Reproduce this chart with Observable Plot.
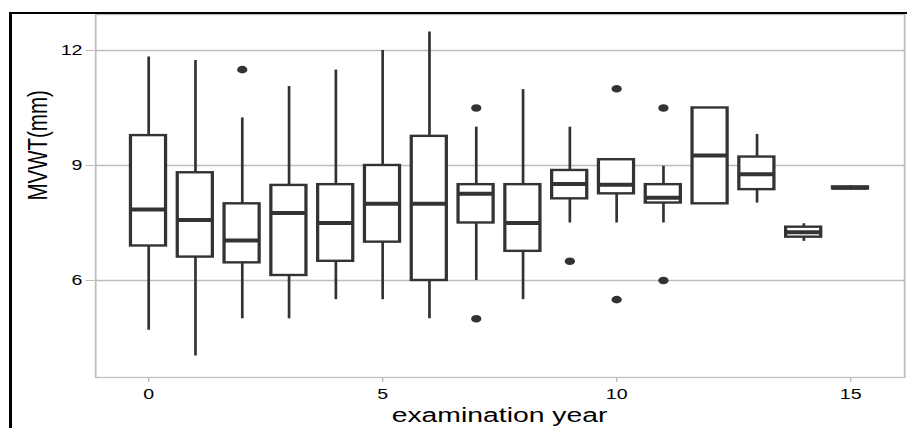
<!DOCTYPE html>
<html>
<head>
<meta charset="utf-8">
<script src="https://cdn.jsdelivr.net/npm/d3@7"></script>
<script src="https://cdn.jsdelivr.net/npm/@observablehq/plot@0.6"></script>
<style>
  body { margin: 0; background: #fff; }
  #wrap { position: relative; width: 907px; height: 428px; overflow: hidden; background: #fff; }
  #chart svg { position: absolute; left: 0; top: 0; transform: scaleX(1.35); transform-origin: 0 0; }
  #border { position: absolute; left: 9px; top: 12px; right: 0; bottom: 0;
            border-left: 3px solid #000; border-top: 2.5px solid #000; pointer-events: none; }
</style>
</head>
<body>
<div id="wrap"><div id="chart"></div><div id="border"></div></div>
<script>
// ---- data ----
const years        = [0, 1, 2, 3, 4, 5, 6, 7, 8, 9, 10, 11, 12, 13, 14, 15];
const whiskerLow   = [4.70, 4.03, 5.00, 5.00, 5.50, 5.50, 5.00, 6.00, 5.50, 7.50, 7.50, 7.50, 8.00, 8.02, 7.02, 8.37];
const q1           = [6.90, 6.61, 6.46, 6.13, 6.50, 7.00, 6.00, 7.50, 6.76, 8.13, 8.26, 8.02, 8.00, 8.37, 7.13, 8.39];
const median       = [7.85, 7.58, 7.04, 7.76, 7.50, 8.00, 8.00, 8.26, 7.50, 8.52, 8.50, 8.16, 9.26, 8.77, 7.26, 8.42];
const q3           = [9.78, 8.81, 8.00, 8.48, 8.50, 9.00, 9.76, 8.50, 8.50, 8.87, 9.15, 8.50, 10.50, 9.22, 7.39, 8.44];
const whiskerHigh  = [11.83, 11.74, 10.24, 11.06, 11.49, 12.00, 12.48, 10.00, 10.98, 10.00, 9.15, 8.98, 10.50, 9.81, 7.48, 8.47];
const outlierYears  = [2, 7, 7, 9, 10, 10, 11, 11];
const outlierValues = [11.5, 10.5, 5.0, 6.5, 11.0, 5.5, 10.5, 6.0];
const xTicks = [0, 5, 10, 15];
const yTicks = [6, 9, 12];
const xTitle = "examination year";
const yTitle = "MVWT(mm)";

const boxes = years.map((year, i) => ({
  year, lo: whiskerLow[i], q1: q1[i], med: median[i], q3: q3[i], hi: whiskerHigh[i]
}));
const outliers = outlierYears.map((year, i) => ({ year, value: outlierValues[i] }));

// ---- layout ----
const S = 1.35;            // horizontal stretch of the reference image
const W = 907 / S;
const half = 0.375;        // half box width in data units
const ink = "#333333";
const gridCol = "#bdbdbd";
const font = "'Liberation Sans', Arial, Helvetica, sans-serif";

const chart = Plot.plot({
  width: W,
  height: 428,
  marginLeft: 95 / S,
  marginRight: 3 / S,
  marginTop: 14,
  marginBottom: 51,
  style: { fontFamily: font, fontSize: "14.5px", color: "#000", background: "transparent" },
  x: { domain: [-1.1325, 16.154] },
  y: { domain: [3.469, 12.939] },
  marks: [
    Plot.gridY(yTicks, { stroke: gridCol, strokeOpacity: 1, strokeWidth: 1.6 }),
    Plot.frame({ stroke: gridCol, strokeWidth: 1.3 }),
    Plot.axisY(yTicks, { tickSize: 7, tickPadding: 2.8, stroke: gridCol, fill: "#000", label: null, fontSize: 14.5 }),
    Plot.axisX(xTicks, { tickSize: 5, tickPadding: 6.5, stroke: gridCol, fill: "#000", label: null, fontSize: 14.5 }),
    Plot.ruleX(boxes, { x: "year", y1: "lo", y2: "hi", stroke: ink, strokeWidth: 2 }),
    Plot.rect(boxes, { x1: d => d.year - half, x2: d => d.year + half, y1: "q1", y2: "q3",
                       fill: "white", stroke: ink, strokeWidth: 2.4 }),
    Plot.ruleY(boxes, { y: "med", x1: d => d.year - half, x2: d => d.year + half, stroke: ink, strokeWidth: 4 }),
    Plot.dot(outliers, { x: "year", y: "value", r: 3.8, fill: ink, stroke: "none" })
  ]
});

const svg = d3.select(chart);
svg.append("text")
  .attr("x", 499.6 / S).attr("y", 422.5)
  .attr("text-anchor", "middle")
  .attr("font-family", font).attr("font-size", 21).attr("fill", "#000")
  .text(xTitle);
svg.append("text")
  .attr("transform", `translate(${46.5 / S},145.4) rotate(-90)`)
  .attr("text-anchor", "middle")
  .attr("font-family", font).attr("font-size", 20.5).attr("fill", "#000")
  .text(yTitle);

document.getElementById("chart").appendChild(chart);
</script>
</body>
</html>
